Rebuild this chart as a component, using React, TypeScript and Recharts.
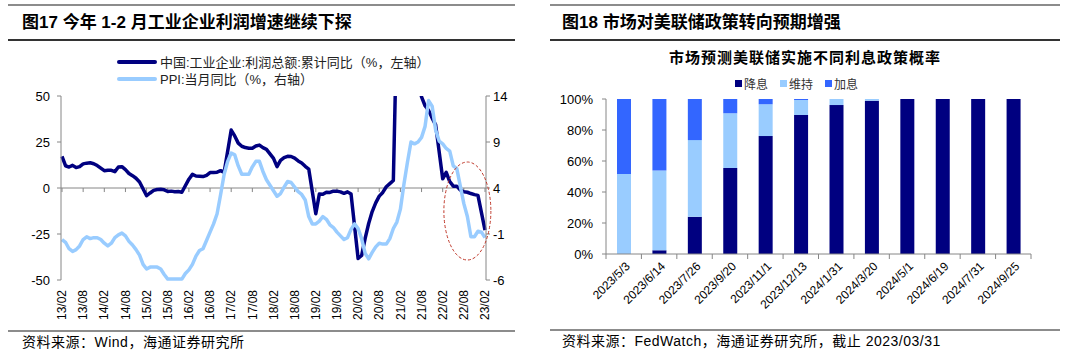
import React from 'react';
import { LineChart, Line, XAxis, YAxis, ReferenceLine, ReferenceDot, BarChart, Bar } from 'recharts';

// ---- Figure 17: industrial profit (cumulative YoY, left) vs PPI (YoY, right), 2013/02 - 2023/02
// profit has no January print (Jan-Feb cumulative), so Jan slots are null and the line bridges them
const profitYoY: (number | null)[] = [
  17.2, 12.1, 11.4, 12.3, 11.1, 11.6, 13.1, 13.5, 13.7, 13.2, 12.2,
  null, 9.4, 9.6, 9.6, 8.9, 11.4, 11.6, 10.0, 7.9, 6.7, 5.3, 3.3,
  null, -4.2, -2.7, -1.3, -0.8, -0.7, -1.0, -1.9, -1.7, -2.0, -1.9, -2.3,
  null, 4.8, 7.4, 6.5, 6.4, 6.2, 6.9, 8.4, 8.4, 8.6, 9.4, 8.5,
  null, 31.5, 28.3, 24.4, 22.7, 22.0, 21.6, 21.6, 22.8, 23.3, 21.9, 21.0,
  null, 16.1, 11.6, 15.0, 16.5, 17.2, 17.1, 16.2, 14.7, 13.6, 11.8, 10.3,
  null, -14.0, -3.3, -3.4, -2.3, -2.4, -1.7, -1.7, -2.1, -2.9, -2.1, -3.3,
  null, -38.3, -36.7, -27.4, -19.3, -12.8, -8.1, -4.4, -2.4, 0.7, 2.4, 4.1,
  null, 178.9, 137.3, 106.0, 83.4, 66.9, 57.3, 49.5, 44.7, 42.2, 38.0, 34.3,
  null, 5.0, 8.5, 3.5, 1.0, 1.0, -1.1, -2.1, -2.3, -3.0, -3.6, -4.0,
  null, -22.9,
];

const ppiYoY: number[] = [
  -1.6, -1.9, -2.6, -2.9, -2.7, -2.3, -1.6, -1.3, -1.5, -1.4, -1.4,
  -1.6, -2.0, -2.3, -2.0, -1.4, -1.1, -0.9, -1.2, -1.8, -2.2, -2.7, -3.3,
  -4.3, -4.8, -4.6, -4.6, -4.6, -4.8, -5.4, -5.9, -5.9, -5.9, -5.9, -5.9,
  -5.3, -4.9, -4.3, -3.4, -2.8, -2.6, -1.7, -0.8, 0.1, 1.2, 3.3, 5.5,
  6.9, 7.8, 7.6, 6.4, 5.5, 5.5, 5.5, 6.3, 6.9, 6.9, 5.8, 4.9,
  4.3, 3.7, 3.1, 3.4, 4.1, 4.7, 4.6, 4.1, 3.6, 3.3, 2.7, 0.9,
  0.1, 0.1, 0.4, 0.9, 0.6, 0.0, -0.3, -0.8, -1.2, -1.6, -1.4, -0.5,
  0.1, -0.4, -1.5, -3.1, -3.7, -3.0, -2.4, -2.0, -2.1, -2.1, -1.5, -0.4,
  0.3, 1.7, 4.4, 6.8, 9.0, 8.8, 9.0, 9.5, 10.7, 13.5, 12.9, 10.3,
  9.1, 8.8, 8.3, 8.0, 6.4, 6.1, 4.2, 2.3, 0.9, -1.3, -1.3, -0.7,
  -0.8, -1.4,
];

// yy/mm labels from 13/02 to 23/02
const months: string[] = [];
for (let i = 0; i < ppiYoY.length; i++) {
  const m = ((1 + i) % 12) + 1;
  const y = 13 + Math.floor((1 + i) / 12);
  months.push(`${y}/${String(m).padStart(2, '0')}`);
}

const leftTicks = [-50, -25, 0, 25, 50];
const rightTicks = [-6, -1, 4, 9, 14];

// ---- Figure 18: FedWatch probabilities by FOMC date
const fomcDates = ['2023/5/3', '2023/6/14', '2023/7/26', '2023/9/20', '2023/11/1', '2023/12/13',
  '2024/1/31', '2024/3/20', '2024/5/1', '2024/6/19', '2024/7/31', '2024/9/25'];
const cutProb = [0, 2.4, 24.0, 55.5, 76.1, 89.7, 96.1, 98.9, 100, 100, 100, 100];
const holdProb = [51.6, 51.4, 49.5, 35.3, 20.5, 9.7, 3.9, 1.1, 0, 0, 0, 0];
const hikeProb = [48.4, 46.2, 26.5, 9.2, 3.4, 0.6, 0, 0, 0, 0, 0, 0];
const pctTicks = [0, 20, 40, 60, 80, 100];

const NAVY = '#000080';
const LIGHT = '#99CCFF';
const MID = '#3366FF';
const AXIS = '#868686';
const FONT = '"Liberation Sans", Arial, "Noto Sans CJK SC", sans-serif';

const lineRows = months.map((m, i) => ({ month: m, profit: profitYoY[i], ppi: ppiYoY[i] }));
const barRows = fomcDates.map((d, i) => ({ date: d, cut: cutProb[i], hold: holdProb[i], hike: hikeProb[i] }));

const lineSeries = [
  { key: 'profit', name: '中国:工业企业:利润总额:累计同比（%，左轴）', color: NAVY },
  { key: 'ppi', name: 'PPI:当月同比（%，右轴）', color: LIGHT },
];
const barSeries = [
  { key: 'cut', name: '降息', color: NAVY },
  { key: 'hold', name: '维持', color: LIGHT },
  { key: 'hike', name: '加息', color: MID },
];

const BAR_PLOT_W = 540 - 66 - 49;
const STEP = BAR_PLOT_W / fomcDates.length;

const MonthTick = ({ x, y, payload }: any) => (
  <text x={x} y={y} transform={`rotate(-90, ${x}, ${y})`} textAnchor="end" dy="0.35em"
    fontSize={12} fill="#000" fontFamily={FONT}>{payload.value}</text>
);

const DateTick = ({ x, y, payload, index }: any) => (
  <g>
    <line x1={x - STEP / 2} y1={y} x2={x - STEP / 2} y2={y + 5} stroke={AXIS} />
    {index === fomcDates.length - 1 && <line x1={x + STEP / 2} y1={y} x2={x + STEP / 2} y2={y + 5} stroke={AXIS} />}
    <text x={x + 4} y={y + 10} transform={`rotate(-45, ${x + 4}, ${y + 10})`} textAnchor="end" dy="0.35em"
      fontSize={12} fill="#000" fontFamily={FONT}>{payload.value}</text>
  </g>
);

const abs = (s: React.CSSProperties): React.CSSProperties => ({ position: 'absolute', ...s });

export default function App() {
  return (
    <div style={abs({ left: 0, top: 0, width: 1080, height: 355, background: '#fff', fontFamily: FONT, overflow: 'hidden', color: '#000' })}>
      {/* ---------- left panel ---------- */}
      <div style={abs({ left: 8, top: 4, width: 507, height: 2, background: '#8c8c8c' })} />
      <div style={abs({ left: 22, top: 13, fontSize: 17, fontWeight: 'bold', lineHeight: '20px', whiteSpace: 'nowrap' })}>
        图17 今年 1-2 月工业企业利润增速继续下探
      </div>
      <div style={abs({ left: 8, top: 39, width: 507, height: 2, background: '#333' })} />

      <div style={abs({ left: 0, top: 0, width: 540, height: 340 })}>
        <LineChart width={540} height={340} data={lineRows} margin={{ top: 96, right: 0, bottom: 10, left: 0 }}>
          <XAxis dataKey="month" interval={5} axisLine={false} tickLine={false} tickSize={0} tickMargin={10}
            height={50} padding={{ left: 1, right: 1 }} tick={<MonthTick />} />
          <YAxis yAxisId="left" domain={[-50, 50]} ticks={leftTicks} allowDataOverflow width={61}
            axisLine={{ stroke: AXIS }} tickLine={{ stroke: AXIS }} tickSize={4} tickMargin={7}
            tick={{ fontSize: 13, fill: '#000' }} />
          <YAxis yAxisId="right" orientation="right" domain={[-6, 14]} ticks={rightTicks} width={54}
            axisLine={{ stroke: AXIS }} tickLine={{ stroke: AXIS }} tickSize={4} tickMargin={3}
            tick={{ fontSize: 13, fill: '#000', textAnchor: 'start' }} />
          <ReferenceLine yAxisId="left" y={0} stroke={AXIS} />
          {months.filter((_, i) => i % 6 === 0).map((m) => (
            <ReferenceLine key={m} yAxisId="left" segment={[{ x: m, y: 0 }, { x: m, y: -2.2 }]} stroke={AXIS} />
          ))}
          <Line yAxisId="left" type="linear" dataKey="profit" stroke={NAVY} strokeWidth={3.5} dot={false}
            connectNulls strokeLinejoin="round" isAnimationActive={false} />
          <Line yAxisId="right" type="linear" dataKey="ppi" stroke={LIGHT} strokeWidth={3.5} dot={false}
            strokeLinejoin="round" isAnimationActive={false} />
          <ReferenceDot yAxisId="left" x={months[115]} y={-12.5} ifOverflow="visible"
            shape={(p: any) => (
              <ellipse cx={p.cx} cy={p.cy} rx={23.5} ry={49} fill="none" stroke="#C0392B" strokeWidth={1} strokeDasharray="3 2" />
            )} />
        </LineChart>
      </div>

      <div style={abs({ left: 117, top: 53 })}>
        {lineSeries.map((s) => (
          <div key={s.key} style={{ display: 'flex', alignItems: 'center', height: 17 }}>
            <span style={{ display: 'inline-block', width: 40, height: 4, background: s.color, borderRadius: 2 }} />
            <span style={{ fontSize: 13, marginLeft: 3, whiteSpace: 'nowrap', color: '#222' }}>{s.name}</span>
          </div>
        ))}
      </div>

      <div style={abs({ left: 8, top: 330, width: 507, height: 2, background: '#8c8c8c' })} />
      <div style={abs({ left: 22, top: 333, fontSize: 14, lineHeight: '18px', letterSpacing: 0.5, whiteSpace: 'nowrap' })}>
        资料来源：Wind，海通证券研究所
      </div>

      {/* ---------- right panel ---------- */}
      <div style={abs({ left: 550, top: 4, width: 510, height: 2, background: '#8c8c8c' })} />
      <div style={abs({ left: 562, top: 13, fontSize: 17, fontWeight: 'bold', lineHeight: '20px', whiteSpace: 'nowrap' })}>
        图18 市场对美联储政策转向预期增强
      </div>
      <div style={abs({ left: 550, top: 39, width: 510, height: 2, background: '#333' })} />

      <div style={abs({ left: 540, top: 48, width: 530, textAlign: 'center', fontSize: 15, fontWeight: 'bold', letterSpacing: 1, lineHeight: '20px' })}>
        市场预测美联储实施不同利息政策概率
      </div>
      <div style={abs({ left: 735, top: 75, display: 'flex', alignItems: 'center', height: 16 })}>
        {barSeries.map((s) => (
          <span key={s.key} style={{ display: 'flex', alignItems: 'center', marginRight: 12 }}>
            <span style={{ display: 'inline-block', width: 7, height: 7, background: s.color }} />
            <span style={{ fontSize: 12, marginLeft: 2, color: '#333' }}>{s.name}</span>
          </span>
        ))}
      </div>

      <div style={abs({ left: 540, top: 0, width: 540, height: 340 })}>
        <BarChart width={540} height={340} data={barRows} margin={{ top: 99, right: 49, bottom: 6, left: 0 }} barSize={14}>
          <XAxis dataKey="date" height={80} interval={0} axisLine={{ stroke: AXIS }} tickLine={false}
            tickSize={0} tickMargin={0} tick={<DateTick />} />
          <YAxis domain={[0, 100]} ticks={pctTicks} tickFormatter={(v: number) => `${v}%`} width={66}
            axisLine={{ stroke: AXIS }} tickLine={{ stroke: AXIS }} tickSize={4} tickMargin={9}
            tick={{ fontSize: 13, fill: '#000' }} />
          {barSeries.map((s) => (
            <Bar key={s.key} dataKey={s.key} stackId="p" fill={s.color} isAnimationActive={false} />
          ))}
        </BarChart>
      </div>

      <div style={abs({ left: 550, top: 329, width: 510, height: 2, background: '#8c8c8c' })} />
      <div style={abs({ left: 562, top: 332, fontSize: 14, lineHeight: '18px', letterSpacing: 0.5, whiteSpace: 'nowrap' })}>
        资料来源：FedWatch，海通证券研究所，截止 2023/03/31
      </div>
    </div>
  );
}
